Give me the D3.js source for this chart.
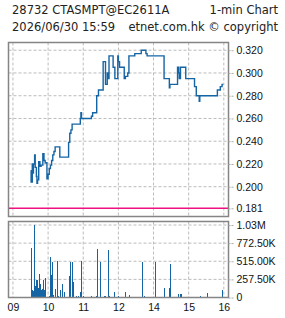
<!DOCTYPE html>
<html>
<head>
<meta charset="utf-8">
<script src="https://cdn.jsdelivr.net/npm/d3@7"></script>
<style>
  body { margin: 0; background: #fff; }
  svg { display: block; }
  .hdr { font-family: "DejaVu Sans", sans-serif; font-size: 11.5px; fill: #222; }
  .axis text { font-family: "Liberation Sans", Arial, sans-serif; font-size: 10.5px; fill: #111; }
  .grid line { stroke: #bcbcbc; stroke-dasharray: 3,2; }
</style>
</head>
<body>
<div id="chart"></div>
<script>
// price (1-min, step) data
const priceTimes = ['09:30','09:31','09:33','09:34','09:35','09:37','09:38','09:40','09:41','09:42',
  '09:44','09:46','09:48','09:51','09:53','09:55','09:58','10:00','10:02','10:04','10:06','10:08',
  '10:10','10:12','10:20','10:35','10:37','10:39','10:41','10:55','10:56','10:57','11:14','11:16',
  '11:23','11:26','11:34','11:38','11:41','11:43','11:44','11:51','11:54','11:59','13:00','13:02',
  '13:10','13:12','13:16','13:18','13:28','13:39','13:47','13:49','14:18','14:27','14:28','14:41',
  '14:43','14:44','14:46','14:55','15:10','15:13','15:18','15:19','15:49','15:54','15:57','15:59'];
const prices = [0.214,0.204,0.220,0.212,0.220,0.228,0.217,0.209,0.203,0.206,
  0.222,0.218,0.219,0.229,0.223,0.221,0.207,0.211,0.216,0.219,0.223,0.228,
  0.231,0.235,0.226,0.239,0.247,0.250,0.255,0.260,0.265,0.260,0.262,0.265,
  0.280,0.285,0.310,0.290,0.300,0.295,0.315,0.305,0.295,0.315,0.310,0.305,
  0.295,0.297,0.300,0.315,0.317,0.320,0.317,0.315,0.295,0.287,0.290,0.305,
  0.300,0.295,0.305,0.295,0.288,0.280,0.275,0.280,0.285,0.288,0.290,0.290];

// volume bars
const volTimes = ['09:31','09:32','09:33','09:34','09:35','09:36','09:37','09:38','09:39','09:40',
  '09:41','09:42','09:43','09:44','09:45','09:46','09:47','09:48','09:49','09:50','09:51','09:52',
  '09:53','09:54','09:55','10:01','10:03','10:05','10:06','10:09','10:12','10:15','10:17','10:20',
  '10:24','10:27','10:36','10:38','10:41','10:43','10:47','10:51','10:54','10:57','10:59','11:14',
  '11:22','11:23','11:28','11:36','11:37','11:43','11:44','11:52','11:59','13:11','13:15','13:18',
  '13:29','13:40','13:41','13:43','13:49','13:55','14:03','14:05','14:18','14:27','14:28','14:34',
  '14:42','14:45','14:47','14:49','14:56','15:13','15:19','15:32','15:50','15:57'];
const volumes = [700000,110000,113000,90000,75000,1030000,160000,150000,245000,200000,
  245000,130000,137000,339000,150000,198000,110000,113000,100000,120000,245000,80000,
  100000,90000,278000,20000,569000,325000,498000,40000,127000,512000,20000,100000,
  198000,85000,301000,498000,498000,216000,20000,20000,85000,512000,20000,15000,
  20000,687000,498000,28000,20000,678000,20000,75000,28000,85000,10000,30000,
  10000,28000,498000,28000,10000,10000,498000,10000,137000,137000,470000,10000,
  45000,45000,45000,10000,10000,10000,28000,66000,10000,100000];

const priceTicks = [0.181, 0.200, 0.220, 0.240, 0.260, 0.280, 0.300, 0.320];
const volTicks = [0, 257500, 515000, 772500, 1030000];
const volTickLabels = ['0', '257.50K', '515.00K', '772.50K', '1.03M'];
const hourTimes = ['09:00', '10:00', '11:00', '12:00', '14:00', '15:00', '16:00'];
const hourLabels = ['09', '10', '11', '12', '14', '15', '16'];
const refLevel = 0.181;

// trading minutes from 09:00, lunch (12:00-13:00) removed
function tradeMin(t) {
  const [h, m] = t.split(':').map(Number);
  const mins = h * 60 + m - 540;
  return mins >= 240 ? mins - 60 : mins;
}

const width = 285, height = 318;
const left = 8.5, right = 228.5;
const pTop = 42.5, pBottom = 216.5;
const vTop = 221.5, vBottom = 297.5;

const svg = d3.select('#chart').append('svg').attr('width', width).attr('height', height);

svg.append('text').attr('class', 'hdr').attr('x', 12).attr('y', 14).text('28732 CTASMPT@EC2611A');
svg.append('text').attr('class', 'hdr').attr('x', 278).attr('y', 14).attr('text-anchor', 'end').text('1-min Chart');
svg.append('text').attr('class', 'hdr').attr('x', 12).attr('y', 31).text('2026/06/30 15:59');
svg.append('text').attr('class', 'hdr').attr('x', 278).attr('y', 31).attr('text-anchor', 'end').text('etnet.com.hk © copyright');

const x = d3.scaleLinear().domain([-7.6, 368]).range([left, right]);
const y = d3.scaleLinear().domain([0.1738, 0.3268]).range([pBottom, pTop]);
const v = d3.scaleLinear().domain([0, 1080000]).range([vBottom, vTop]);

const hourMins = hourTimes.map(tradeMin);
const priceData = priceTimes.map((t, i) => ({ m: tradeMin(t), p: prices[i] }));
const volData = volTimes.map((t, i) => ({ m: tradeMin(t), vol: volumes[i] }));

// grids
const grid = svg.append('g').attr('class', 'grid');
[[pTop, pBottom], [vTop, vBottom]].forEach(([t, b]) => {
  grid.selectAll(null).data(hourMins).enter().append('line')
    .attr('x1', d => x(d)).attr('x2', d => x(d)).attr('y1', t).attr('y2', b);
});
grid.selectAll(null).data(priceTicks.filter(d => d !== refLevel)).enter().append('line')
  .attr('x1', left).attr('x2', right).attr('y1', d => y(d)).attr('y2', d => y(d));
grid.selectAll(null).data(volTicks.slice(1)).enter().append('line')
  .attr('x1', left).attr('x2', right).attr('y1', d => v(d)).attr('y2', d => v(d));

// reference level
svg.append('line')
  .attr('x1', left).attr('x2', right).attr('y1', y(refLevel)).attr('y2', y(refLevel))
  .attr('stroke', '#ee1180').attr('stroke-width', 1.5);

// price line
svg.append('path')
  .datum(priceData)
  .attr('fill', 'none')
  .attr('stroke', '#1565a5')
  .attr('stroke-width', 1.4)
  .attr('d', d3.line().x(d => x(d.m)).y(d => y(d.p)).curve(d3.curveStepAfter));

// volume bars
svg.append('g').attr('shape-rendering', 'crispEdges')
  .selectAll('rect').data(volData).enter().append('rect')
  .attr('x', d => Math.round(x(d.m)))
  .attr('width', 1)
  .attr('y', d => Math.round(v(d.vol)))
  .attr('height', d => vBottom - Math.round(v(d.vol)))
  .attr('fill', '#1565a5');

// frames
[[pTop, pBottom], [vTop, vBottom]].forEach(([t, b]) => {
  svg.append('rect').attr('x', left).attr('y', t).attr('width', right - left).attr('height', b - t)
    .attr('fill', 'none').attr('stroke', '#858585').attr('stroke-width', 1.5);
});

// axes
const yAxis = svg.append('g').attr('class', 'axis').attr('transform', `translate(${right},0)`)
  .call(d3.axisRight(y).tickValues(priceTicks).tickSize(5).tickPadding(3).tickFormat(d3.format('.3f')));
const vAxis = svg.append('g').attr('class', 'axis').attr('transform', `translate(${right},0)`)
  .call(d3.axisRight(v).tickValues(volTicks).tickSize(5).tickPadding(3).tickFormat((d, i) => volTickLabels[i]));
const xAxis = svg.append('g').attr('class', 'axis').attr('transform', `translate(0,${vBottom})`)
  .call(d3.axisBottom(x).tickValues(hourMins).tickSize(0).tickPadding(6).tickFormat((d, i) => hourLabels[i]));

[yAxis, vAxis, xAxis].forEach(g => {
  g.select('.domain').remove();
  g.selectAll('.tick line').attr('stroke', '#aaa').attr('stroke-dasharray', '2,1');
});
</script>
</body>
</html>
